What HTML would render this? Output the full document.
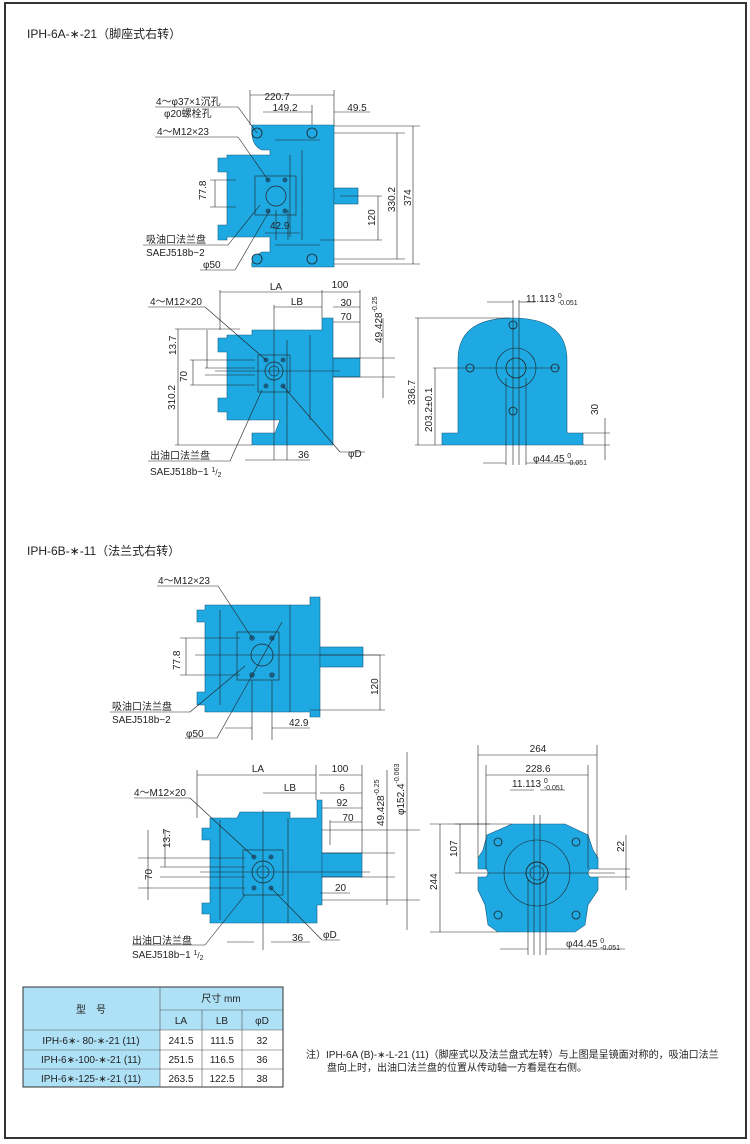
<!DOCTYPE html>
<html><head><meta charset="utf-8"><style>
html,body{margin:0;padding:0;background:#fff;}
svg{display:block;}
text{font-family:"Liberation Sans","Noto Sans CJK SC",sans-serif;fill:#222;}
</style></head><body>
<svg width="750" height="1144" viewBox="0 0 750 1144" xmlns="http://www.w3.org/2000/svg">
<rect x="5" y="3" width="741" height="1135" fill="#fff" stroke="#333" stroke-width="2"/>
<defs>
<style>.b{fill:#1ea9e2;stroke:#1a5c80;stroke-width:0.6}.l{stroke:#222;stroke-width:0.6;fill:none}.t{font-size:10px}.s{font-size:7px}</style>
</defs>
<text x="27" y="38" font-size="12">IPH-6A-∗-21（脚座式右转）</text>
<text x="27" y="555" font-size="12">IPH-6B-∗-11（法兰式右转）</text>

<!-- TOP VIEW -->
<path class="b" d="M252,125 H334 V267 H252 Q250,258 262,252 H270 V237 H227 V240 H218 V225 H227 V172 H218 V158 H227 V155 H270 V150 H262 Q250,145 252,125 Z"/>
<rect class="b" x="334" y="188" width="24" height="16"/>
<rect class="l" x="255" y="176" width="41" height="39"/>
<circle cx="276" cy="196" r="10" fill="#1ea9e2" stroke="#222" stroke-width="0.7"/>
<g fill="#1a5c80"><circle cx="268" cy="180" r="2.5"/><circle cx="285" cy="180" r="2.5"/><circle cx="268" cy="211" r="2.5"/><circle cx="285" cy="211" r="2.5"/></g>
<g fill="#1ea9e2" stroke="#222" stroke-width="0.8"><circle cx="257" cy="133" r="5"/><circle cx="312" cy="133" r="5"/><circle cx="257" cy="259" r="5"/><circle cx="312" cy="259" r="5"/></g>
<g class="l">
<line x1="302" y1="150" x2="302" y2="240"/><line x1="290" y1="155" x2="290" y2="237"/><line x1="275" y1="140" x2="320" y2="140"/><line x1="275" y1="245" x2="320" y2="245"/>
<line x1="250" y1="90" x2="250" y2="125"/><line x1="334" y1="90" x2="334" y2="125"/><line x1="250" y1="95" x2="334" y2="95"/>
<line x1="263" y1="112" x2="312" y2="112"/><line x1="312" y1="105" x2="312" y2="125"/><line x1="334" y1="112" x2="370" y2="112"/>
<line x1="334" y1="126" x2="420" y2="126"/><line x1="334" y1="133" x2="405" y2="133"/><line x1="334" y1="259" x2="405" y2="259"/><line x1="334" y1="264" x2="420" y2="264"/>
<line x1="413" y1="126" x2="413" y2="264"/><line x1="397" y1="133" x2="397" y2="259"/><line x1="378" y1="196" x2="378" y2="240"/><line x1="340" y1="196" x2="382" y2="196"/><line x1="320" y1="240" x2="382" y2="240"/>
<line x1="210" y1="180" x2="236" y2="180"/><line x1="210" y1="207" x2="236" y2="207"/><line x1="215" y1="180" x2="215" y2="207"/>
<line x1="276" y1="210" x2="276" y2="240"/><line x1="288" y1="210" x2="288" y2="240"/><line x1="265" y1="233" x2="300" y2="233"/>
<line x1="155" y1="107" x2="238" y2="107"/><line x1="238" y1="107" x2="257" y2="133"/>
<line x1="155" y1="137" x2="238" y2="137"/><line x1="238" y1="137" x2="268" y2="180"/>
<line x1="143" y1="245" x2="228" y2="245"/><line x1="228" y1="245" x2="260" y2="205"/>
<line x1="200" y1="270" x2="235" y2="270"/><line x1="235" y1="270" x2="270" y2="210"/>
</g>
<text class="t" x="277" y="100" text-anchor="middle">220.7</text>
<text class="t" x="285" y="111" text-anchor="middle">149.2</text>
<text class="t" x="357" y="111" text-anchor="middle">49.5</text>
<text class="t" x="156" y="105">4～φ37×1沉孔</text>
<text class="t" x="164" y="117">φ20螺栓孔</text>
<text class="t" x="157" y="135">4～M12×23</text>
<text class="t" x="146" y="243">吸油口法兰盘</text>
<text class="t" x="146" y="256">SAEJ518b−2</text>
<text class="t" x="203" y="268">φ50</text>
<text class="t" x="270" y="229">42.9</text>
<text class="t" transform="translate(206,200) rotate(-90)">77.8</text>
<text class="t" transform="translate(375,226) rotate(-90)">120</text>
<text class="t" transform="translate(395,212) rotate(-90)">330.2</text>
<text class="t" transform="translate(411,206) rotate(-90)">374</text>

<!-- MIDDLE SIDE VIEW -->
<path class="b" d="M227,335 H252 V330 H322 V318 H333 V445 H252 V433 H275 L280,420 H227 V412 H218 V398 H227 V352 H218 V338 H227 Z"/>
<rect class="b" x="333" y="358" width="27" height="19"/>
<rect class="l" x="258" y="355" width="32" height="37"/>
<circle cx="274" cy="371" r="9" fill="#1ea9e2" stroke="#222" stroke-width="0.7"/>
<circle cx="274" cy="371" r="5" class="l"/>
<g fill="#1a5c80"><circle cx="266" cy="360" r="2.5"/><circle cx="283" cy="360" r="2.5"/><circle cx="266" cy="386" r="2.5"/><circle cx="283" cy="386" r="2.5"/></g>
<g class="l">
<line x1="310" y1="335" x2="310" y2="420"/><line x1="215" y1="371" x2="340" y2="371"/><line x1="274" y1="305" x2="274" y2="460"/><line x1="287" y1="340" x2="287" y2="460"/>
<line x1="220" y1="290" x2="220" y2="330"/><line x1="322" y1="290" x2="322" y2="318"/><line x1="360" y1="290" x2="360" y2="358"/><line x1="220" y1="292" x2="360" y2="292"/>
<line x1="274" y1="307" x2="322" y2="307"/><line x1="333" y1="307" x2="360" y2="307"/><line x1="333" y1="322" x2="360" y2="322"/>
<line x1="333" y1="358" x2="395" y2="358"/><line x1="333" y1="377" x2="395" y2="377"/><line x1="383" y1="318" x2="383" y2="398"/>
<line x1="175" y1="329" x2="240" y2="329"/><line x1="175" y1="445" x2="252" y2="445"/><line x1="178" y1="329" x2="178" y2="445"/>
<line x1="190" y1="360" x2="255" y2="360"/><line x1="190" y1="385" x2="255" y2="385"/><line x1="193" y1="360" x2="193" y2="385"/>
<line x1="205" y1="368" x2="255" y2="368"/><line x1="205" y1="375" x2="255" y2="375"/><line x1="207" y1="330" x2="207" y2="368"/>
<line x1="245" y1="460" x2="310" y2="460"/>
<line x1="148" y1="307" x2="205" y2="307"/><line x1="205" y1="307" x2="266" y2="360"/>
<line x1="148" y1="461" x2="230" y2="461"/><line x1="230" y1="461" x2="262" y2="390"/>
<line x1="283" y1="386" x2="340" y2="452"/><line x1="340" y1="452" x2="365" y2="452"/>
</g>
<text class="t" x="276" y="290" text-anchor="middle">LA</text>
<text class="t" x="340" y="288" text-anchor="middle">100</text>
<text class="t" x="297" y="305" text-anchor="middle">LB</text>
<text class="t" x="346" y="306" text-anchor="middle">30</text>
<text class="t" x="346" y="320" text-anchor="middle">70</text>
<text class="t" x="150" y="305">4～M12×20</text>
<text class="t" x="298" y="458">36</text>
<text class="t" x="348" y="457">φD</text>
<text class="t" x="150" y="459">出油口法兰盘</text>
<text class="t" x="150" y="475">SAEJ518b−1 <tspan font-size="7" dy="-3">1</tspan><tspan font-size="8" dy="3">/</tspan><tspan font-size="7" dy="2">2</tspan></text>
<text class="t" transform="translate(176,355) rotate(-90)">13.7</text>
<text class="t" transform="translate(187,382) rotate(-90)">70</text>
<text class="t" transform="translate(175,410) rotate(-90)">310.2</text>
<text class="t" transform="translate(382,343) rotate(-90)">49.428<tspan class="s" dy="-5">-0.25</tspan></text>

<!-- MIDDLE FRONT VIEW -->
<path class="b" d="M458,433 V360 Q458,318 512,318 Q567,318 567,360 V433 H583 V445 H442 V433 Z"/>
<circle cx="516" cy="368" r="20" class="l"/>
<circle cx="516" cy="368" r="10" fill="#1ea9e2" stroke="#222" stroke-width="0.8"/>
<g fill="#1ea9e2" stroke="#222" stroke-width="0.8"><circle cx="513" cy="325" r="4"/><circle cx="470" cy="368" r="4"/><circle cx="555" cy="368" r="4"/><circle cx="513" cy="411" r="4"/></g>
<g class="l">
<line x1="513" y1="300" x2="513" y2="465"/><line x1="519" y1="300" x2="519" y2="465"/><line x1="487" y1="302" x2="513" y2="302"/><line x1="519" y1="302" x2="535" y2="302"/>
<line x1="415" y1="318" x2="510" y2="318"/><line x1="415" y1="445" x2="442" y2="445"/><line x1="418" y1="318" x2="418" y2="445"/>
<line x1="433" y1="368" x2="560" y2="368"/><line x1="435" y1="368" x2="435" y2="445"/>
<line x1="583" y1="433" x2="610" y2="433"/><line x1="583" y1="445" x2="610" y2="445"/><line x1="605" y1="418" x2="605" y2="460"/>
<line x1="483" y1="463" x2="506" y2="463"/><line x1="526" y1="463" x2="580" y2="463"/><line x1="506" y1="378" x2="506" y2="465"/><line x1="526" y1="378" x2="526" y2="465"/>
</g>
<text class="t" x="526" y="302">11.113 <tspan class="s" dy="-4">0</tspan><tspan class="s" dx="-4" dy="7">-0.051</tspan></text>
<text class="t" x="533" y="462">φ44.45 <tspan class="s" dy="-4">0</tspan><tspan class="s" dx="-4" dy="7">-0.051</tspan></text>
<text class="t" transform="translate(415,405) rotate(-90)">336.7</text>
<text class="t" transform="translate(432,432) rotate(-90)">203.2±0.1</text>
<text class="t" transform="translate(598,415) rotate(-90)">30</text>

<!-- BOTTOM FLANGE VIEW -->
<path class="b" d="M205,605 H310 V597 H320 V717 H310 V712 H205 V705 H197 V692 H205 V622 H197 V610 H205 Z"/>
<rect class="b" x="320" y="647" width="43" height="20"/>
<rect class="l" x="237" y="632" width="42" height="48"/>
<circle cx="262" cy="655" r="11" fill="#1ea9e2" stroke="#222" stroke-width="0.7"/>
<g fill="#1a5c80"><circle cx="252" cy="638" r="2.8"/><circle cx="272" cy="638" r="2.8"/><circle cx="252" cy="675" r="2.8"/><circle cx="272" cy="675" r="2.8"/></g>
<g class="l">
<line x1="290" y1="605" x2="290" y2="712"/><line x1="220" y1="610" x2="220" y2="705"/><line x1="195" y1="655" x2="380" y2="655"/>
<line x1="180" y1="638" x2="240" y2="638"/><line x1="180" y1="675" x2="240" y2="675"/><line x1="186" y1="638" x2="186" y2="675"/>
<line x1="320" y1="655" x2="385" y2="655"/><line x1="310" y1="710" x2="385" y2="710"/><line x1="380" y1="655" x2="380" y2="710"/>
<line x1="252" y1="680" x2="252" y2="740"/><line x1="272" y1="680" x2="272" y2="740"/><line x1="225" y1="728" x2="252" y2="728"/><line x1="272" y1="728" x2="310" y2="728"/>
<line x1="157" y1="586" x2="218" y2="586"/><line x1="218" y1="586" x2="252" y2="638"/>
<line x1="110" y1="712" x2="190" y2="712"/><line x1="190" y1="712" x2="245" y2="666"/>
<line x1="185" y1="738" x2="217" y2="738"/><line x1="217" y1="738" x2="282" y2="622"/>
</g>
<text class="t" x="158" y="584">4～M12×23</text>
<text class="t" x="112" y="710">吸油口法兰盘</text>
<text class="t" x="112" y="723">SAEJ518b−2</text>
<text class="t" x="186" y="737">φ50</text>
<text class="t" x="289" y="726">42.9</text>
<text class="t" transform="translate(180,670) rotate(-90)">77.8</text>
<text class="t" transform="translate(378,695) rotate(-90)">120</text>

<!-- BOTTOM SIDE VIEW -->
<path class="b" d="M210,818 H237 L240,812 H290 V818 H317 V800 H322 V905 H317 V923 H210 V914 H202 V903 H210 V840 H202 V828 H210 Z"/>
<rect class="b" x="322" y="853" width="40" height="24"/>
<rect class="l" x="243" y="850" width="40" height="45"/>
<circle cx="263" cy="872" r="11" fill="#1ea9e2" stroke="#222" stroke-width="0.7"/>
<circle cx="263" cy="872" r="6" class="l"/>
<g fill="#1a5c80"><circle cx="254" cy="857" r="2.5"/><circle cx="271" cy="857" r="2.5"/><circle cx="254" cy="888" r="2.5"/><circle cx="271" cy="888" r="2.5"/></g>
<g class="l">
<line x1="288" y1="818" x2="288" y2="923"/><line x1="220" y1="820" x2="220" y2="920"/><line x1="263" y1="810" x2="263" y2="950"/><line x1="200" y1="872" x2="370" y2="872"/>
<line x1="197" y1="770" x2="197" y2="818"/><line x1="316" y1="765" x2="316" y2="800"/><line x1="362" y1="765" x2="362" y2="853"/><line x1="197" y1="775" x2="316" y2="775"/><line x1="319" y1="775" x2="362" y2="775"/>
<line x1="263" y1="793" x2="316" y2="793"/><line x1="320" y1="793" x2="362" y2="793"/><line x1="322" y1="808" x2="362" y2="808"/><line x1="330" y1="822" x2="362" y2="822"/><line x1="330" y1="820" x2="330" y2="845"/>
<line x1="322" y1="830" x2="420" y2="830"/><line x1="322" y1="853" x2="395" y2="853"/><line x1="322" y1="877" x2="395" y2="877"/><line x1="322" y1="900" x2="420" y2="900"/><line x1="387" y1="770" x2="387" y2="905"/><line x1="407" y1="752" x2="407" y2="930"/>
<line x1="320" y1="893" x2="350" y2="893"/>
<line x1="138" y1="858" x2="245" y2="858"/><line x1="138" y1="888" x2="245" y2="888"/><line x1="148" y1="830" x2="148" y2="900"/>
<line x1="160" y1="867" x2="245" y2="867"/><line x1="160" y1="877" x2="245" y2="877"/><line x1="165" y1="830" x2="165" y2="867"/>
<line x1="227" y1="942" x2="254" y2="942"/><line x1="271" y1="942" x2="310" y2="942"/>
<line x1="134" y1="798" x2="190" y2="798"/><line x1="190" y1="798" x2="254" y2="857"/>
<line x1="132" y1="945" x2="205" y2="945"/><line x1="205" y1="945" x2="245" y2="895"/>
<line x1="271" y1="888" x2="322" y2="940"/><line x1="322" y1="940" x2="340" y2="940"/>
</g>
<text class="t" x="258" y="772" text-anchor="middle">LA</text>
<text class="t" x="340" y="772" text-anchor="middle">100</text>
<text class="t" x="290" y="791" text-anchor="middle">LB</text>
<text class="t" x="342" y="791" text-anchor="middle">6</text>
<text class="t" x="342" y="806" text-anchor="middle">92</text>
<text class="t" x="348" y="821" text-anchor="middle">70</text>
<text class="t" x="335" y="891">20</text>
<text class="t" x="292" y="941">36</text>
<text class="t" x="323" y="938">φD</text>
<text class="t" x="134" y="796">4～M12×20</text>
<text class="t" x="132" y="944">出油口法兰盘</text>
<text class="t" x="132" y="958">SAEJ518b−1 <tspan font-size="7" dy="-3">1</tspan><tspan font-size="8" dy="3">/</tspan><tspan font-size="7" dy="2">2</tspan></text>
<text class="t" transform="translate(170,848) rotate(-90)">13.7</text>
<text class="t" transform="translate(152,880) rotate(-90)">70</text>
<text class="t" transform="translate(384,826) rotate(-90)">49.428<tspan class="s" dy="-5">-0.25</tspan></text>
<text class="t" transform="translate(404,815) rotate(-90)">φ152.4<tspan class="s" dy="-5">-0.063</tspan></text>

<!-- BOTTOM FRONT VIEW -->
<path class="b" d="M512,824 H565 L588,835 L593,850 L598,858 V869 H590 Q586,873 590,877 H598 V890 L588,905 L585,925 L575,932 H498 L488,925 L485,905 L478,890 V877 H486 Q490,873 486,869 H478 V858 L483,850 L487,835 Z"/>
<circle cx="537" cy="873" r="33" class="l"/>
<circle cx="537" cy="873" r="11" fill="#1ea9e2" stroke="#222" stroke-width="0.9"/>
<circle cx="537" cy="873" r="7" class="l"/>
<g fill="#1ea9e2" stroke="#222" stroke-width="0.8"><circle cx="498" cy="842" r="4"/><circle cx="576" cy="842" r="4"/><circle cx="498" cy="915" r="4"/><circle cx="576" cy="915" r="4"/></g>
<g class="l">
<line x1="478" y1="745" x2="478" y2="858"/><line x1="597" y1="745" x2="597" y2="858"/><line x1="478" y1="755" x2="597" y2="755"/>
<line x1="486" y1="765" x2="486" y2="869"/><line x1="588" y1="765" x2="588" y2="869"/><line x1="486" y1="775" x2="588" y2="775"/>
<line x1="534" y1="815" x2="534" y2="955"/><line x1="540" y1="815" x2="540" y2="955"/><line x1="510" y1="790" x2="534" y2="790"/><line x1="540" y1="790" x2="565" y2="790"/>
<line x1="430" y1="824" x2="512" y2="824"/><line x1="430" y1="932" x2="498" y2="932"/><line x1="440" y1="824" x2="440" y2="932"/>
<line x1="455" y1="824" x2="490" y2="824"/><line x1="460" y1="824" x2="460" y2="873"/><line x1="455" y1="873" x2="615" y2="873"/>
<line x1="598" y1="869" x2="630" y2="869"/><line x1="598" y1="877" x2="630" y2="877"/><line x1="626" y1="835" x2="626" y2="890"/>
<line x1="500" y1="949" x2="528" y2="949"/><line x1="546" y1="949" x2="625" y2="949"/><line x1="528" y1="880" x2="528" y2="955"/><line x1="546" y1="880" x2="546" y2="955"/>
</g>
<text class="t" x="538" y="752" text-anchor="middle">264</text>
<text class="t" x="538" y="772" text-anchor="middle">228.6</text>
<text class="t" x="512" y="787">11.113 <tspan class="s" dy="-4">0</tspan><tspan class="s" dx="-4" dy="7">-0.051</tspan></text>
<text class="t" x="566" y="947">φ44.45 <tspan class="s" dy="-4">0</tspan><tspan class="s" dx="-4" dy="7">-0.051</tspan></text>
<text class="t" transform="translate(457,857) rotate(-90)">107</text>
<text class="t" transform="translate(437,890) rotate(-90)">244</text>
<text class="t" transform="translate(624,852) rotate(-90)">22</text>

<!-- TABLE -->
<g font-size="10">
<rect x="23" y="987" width="260" height="43" fill="#aee0f6"/>
<rect x="23" y="1030" width="137" height="57" fill="#aee0f6"/>
<rect x="23" y="987" width="260" height="100" fill="none" stroke="#333" stroke-width="1"/>
<g stroke="#555" stroke-width="0.6">
<line x1="160" y1="987" x2="160" y2="1087"/><line x1="202" y1="1010" x2="202" y2="1087"/><line x1="242" y1="1010" x2="242" y2="1087"/>
<line x1="160" y1="1010" x2="283" y2="1010"/><line x1="23" y1="1030" x2="283" y2="1030"/><line x1="23" y1="1050" x2="283" y2="1050"/><line x1="23" y1="1069" x2="283" y2="1069"/>
</g>
<text x="91" y="1013" text-anchor="middle">型　号</text>
<text x="221" y="1002" text-anchor="middle">尺寸  mm</text>
<text x="181" y="1024" text-anchor="middle">LA</text><text x="222" y="1024" text-anchor="middle">LB</text><text x="262" y="1024" text-anchor="middle">φD</text>
<text x="91" y="1044" text-anchor="middle">IPH-6∗- 80-∗-21 (11)</text><text x="181" y="1044" text-anchor="middle">241.5</text><text x="222" y="1044" text-anchor="middle">111.5</text><text x="262" y="1044" text-anchor="middle">32</text>
<text x="91" y="1063" text-anchor="middle">IPH-6∗-100-∗-21 (11)</text><text x="181" y="1063" text-anchor="middle">251.5</text><text x="222" y="1063" text-anchor="middle">116.5</text><text x="262" y="1063" text-anchor="middle">36</text>
<text x="91" y="1082" text-anchor="middle">IPH-6∗-125-∗-21 (11)</text><text x="181" y="1082" text-anchor="middle">263.5</text><text x="222" y="1082" text-anchor="middle">122.5</text><text x="262" y="1082" text-anchor="middle">38</text>
</g>
<text x="306" y="1058" font-size="10">注）IPH-6A (B)-∗-L-21 (11)（脚座式以及法兰盘式左转）与上图是呈镜面对称的，吸油口法兰</text>
<text x="327" y="1071" font-size="10">盘向上时，出油口法兰盘的位置从传动轴一方看是在右侧。</text>
</svg>
</body></html>
